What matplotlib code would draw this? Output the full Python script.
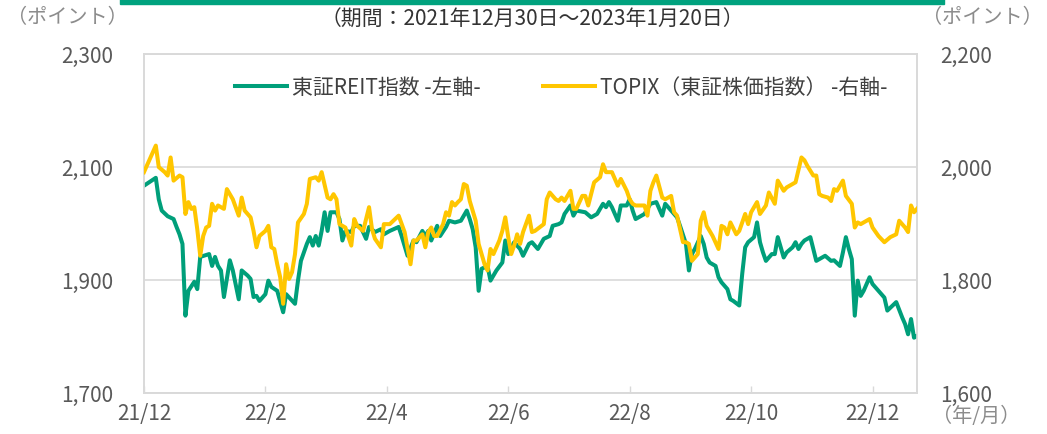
import matplotlib
matplotlib.use("Agg")
import matplotlib.pyplot as plt
from matplotlib.lines import Line2D
from matplotlib.patches import Rectangle

plt.rcParams['font.family'] = ['Noto Sans CJK JP', 'DejaVu Sans']

# ---- data (trading-day index, value) ----
reit_day = [0, 4, 5, 6, 8, 10, 11, 12, 13, 14, 15, 17, 18, 19, 22, 23, 24, 25, 26, 27, 29, 30, 32, 33, 35, 36, 37, 38, 39,
            41, 42, 43, 45, 47, 48, 51, 52, 53, 55, 56, 57, 58, 59, 60, 61, 62, 63, 65, 66, 67, 68, 70, 71, 73, 75, 76, 78,
            80, 81, 83, 86, 87, 89, 91, 92, 94, 95, 96, 97, 99, 100, 102, 103, 105, 107, 109, 110, 111, 112, 113, 114,
            116, 117, 119, 121, 122, 123, 125, 127, 128, 130, 131, 133, 135, 137, 138, 140, 141, 142, 144, 145, 146, 149,
            151, 153, 155, 156, 157, 158, 160, 161, 163, 164, 165, 166, 169, 171, 173, 175, 176, 178, 180, 181, 183, 184,
            185, 186, 188, 189, 190, 191, 193, 194, 195, 197, 198, 199, 201, 202, 203, 204, 206, 207, 208, 209, 210, 212,
            213, 214, 215, 216, 217, 219, 220, 221, 222, 223, 225, 227, 228, 230, 232, 233, 235, 236, 237, 238, 239, 240,
            241, 242, 243, 245, 246, 248, 250, 251, 254, 256, 257, 258, 259, 260, 261]
reit_value = [2066, 2080, 2042, 2022, 2012, 2007, 1993, 1980, 1963, 1836, 1880, 1896, 1883, 1940, 1945, 1924, 1940, 1924,
              1916, 1869, 1934, 1916, 1865, 1916, 1907, 1901, 1869, 1871, 1862,
              1874, 1898, 1887, 1880, 1842, 1874, 1857, 1898, 1933, 1963, 1975, 1960, 1977, 1960, 1986, 2019, 1986, 2019,
              2019, 2007, 1969, 1986, 1984, 1995, 1995, 1972, 1993, 1984,
              1989, 1980, 1986, 1993, 1977, 1942, 1969, 1966, 1986, 1977, 1986, 1969, 1995, 1977, 1993, 2004, 2001, 2004,
              2022, 2007, 1989, 1957, 1880, 1919,
              1924, 1898, 1916, 1930, 1969, 1945, 1966, 1954, 1942, 1963, 1966, 1954, 1972, 1977, 1995, 1998, 2001, 2016,
              2031, 2013, 2022, 2019,
              2010, 2016, 2034, 2028, 2037, 2028, 2004, 2031, 2031, 2042, 2022, 2007, 2016, 2034, 2037, 2013, 2034, 2022,
              2010, 1995, 1963, 1916,
              1945, 1954, 1977, 1963, 1939, 1930, 1924, 1904, 1895, 1883, 1865, 1862, 1854, 1910, 1957, 1966, 1975, 2001,
              1966, 1948, 1933, 1945,
              1945, 1975, 1957, 1939, 1948, 1957, 1966, 1954, 1963, 1969, 1975, 1933, 1936, 1942, 1933, 1934, 1924, 1948,
              1975, 1954, 1936, 1836,
              1898, 1871, 1880, 1904, 1892, 1880, 1868, 1845, 1860, 1833, 1821, 1803, 1830, 1797, 1800]

topix_day = [0, 4, 5, 7, 8, 9, 10, 12, 13, 14, 15, 16, 17, 18, 19, 20, 21, 22, 23, 24, 25, 27, 28, 30, 32, 33, 34, 36, 37,
             38, 39, 41, 42, 43, 44, 45, 46, 47, 48, 49, 50, 51, 52, 54, 55, 56, 58, 59, 60, 62, 63, 64, 65, 66, 68, 70,
             71, 72, 74, 76, 77, 78, 80, 81, 83, 86, 88, 90, 91, 92, 94, 95, 96, 97, 98, 99, 101, 102, 103, 104, 105, 106,
             107, 108, 109, 110, 112, 113, 114, 115, 116, 117, 118, 120, 121, 122, 123, 124, 125, 126, 127, 128, 130, 131,
             132, 135, 136, 137, 139, 140, 141, 142, 144, 145, 146, 148, 149, 150, 152, 154, 155, 156, 158, 160, 161, 163,
             164, 165, 166, 169, 170, 171, 172, 173, 175, 176, 178, 179, 180, 182, 183, 184, 185, 187, 188, 189, 190, 192,
             194, 195, 196, 197, 198, 200, 201, 203, 204, 205, 207, 208, 210, 211, 213, 214, 216, 217, 218, 220, 222, 223,
             224, 226, 227, 228, 229, 231, 232, 233, 234, 236, 237, 239, 240, 241, 242, 243, 245, 246, 248, 250, 252, 254,
             255, 257, 258, 259, 260, 261]
topix_value = [1990, 2037, 1999, 1990, 1984, 2016, 1975, 1984, 1981, 1916, 1937, 1925, 1928, 1889, 1842, 1877, 1892, 1895,
               1934, 1922, 1931, 1925, 1960, 1942, 1913, 1945, 1922, 1910, 1886,
               1857, 1877, 1886, 1895, 1857, 1854, 1827, 1804, 1757, 1827, 1801, 1813, 1845, 1901, 1916, 1934, 1978, 1981,
               1975, 1990, 1945, 1942, 1951, 1942, 1898, 1892, 1860,
               1907, 1895, 1886, 1928, 1889, 1872, 1857, 1898, 1898, 1913, 1884, 1827, 1869, 1869, 1880, 1857, 1884, 1892,
               1877, 1877, 1898, 1919, 1913, 1937, 1931, 1937,
               1942, 1969, 1966, 1939, 1904, 1863, 1845, 1827, 1816, 1854, 1845, 1869, 1886, 1910, 1875, 1845, 1860, 1880,
               1863, 1884, 1913, 1884,
               1886, 1898, 1942, 1954, 1942, 1939, 1945, 1939, 1957, 1925, 1925, 1948, 1948, 1931, 1972, 1981, 2004, 1990,
               1990, 1966, 1978, 1957,
               1942, 1934, 1931, 1931, 1913, 1957, 1972, 1984, 1945, 1942, 1948, 1919, 1913, 1866, 1866, 1863, 1833, 1845,
               1904, 1919, 1895, 1877,
               1854, 1895, 1892, 1880, 1901, 1880, 1886, 1916, 1898, 1919, 1937, 1916, 1931, 1954, 1934, 1975, 1957, 1963,
               1966, 1972, 2016, 2011,
               2001, 1984, 1984, 1951, 1948, 1945, 1939, 1960, 1957, 1975, 1948, 1934, 1892, 1901, 1898, 1901, 1907, 1892,
               1877, 1866, 1875, 1880,
               1904, 1892, 1884, 1931, 1919, 1925]

tick_days = [0, 41, 82, 123, 164, 205, 246]
tick_labels = ['21/12', '22/2', '22/4', '22/6', '22/8', '22/10', '22/12']
left_ticks = [1700, 1900, 2100, 2300]
right_ticks = [1600, 1800, 2000, 2200]

GREEN = '#009F7A'
YELLOW = '#FFC600'
TXT = '#595959'
GRID = '#D9D9D9'
FS = 15

fig = plt.figure(figsize=(10.47, 4.35), dpi=100)
ax = fig.add_axes([0.1375, 0.0954, 0.7383, 0.7793])
ax2 = ax.twinx()

ax.plot(reit_day, reit_value, color=GREEN, lw=2.9, solid_joinstyle='round', zorder=3)
ax2.plot(topix_day, topix_value, color=YELLOW, lw=2.9, solid_joinstyle='round', zorder=3)

ax.set_xlim(0, 261)
ax.set_ylim(1700, 2300)
ax2.set_ylim(1600, 2200)

ax.set_yticks(left_ticks)
ax.set_yticklabels([f'{v:,}' for v in left_ticks])
ax2.set_yticks(right_ticks)
ax2.set_yticklabels([f'{v:,}' for v in right_ticks])
ax.set_xticks(tick_days)
ax.set_xticklabels(tick_labels)

ax.grid(axis='y', color=GRID, lw=1.2)
ax.set_axisbelow(True)

for a in (ax, ax2):
    for s in a.spines.values():
        s.set_color(GRID)
        s.set_linewidth(1.2)
ax.tick_params(axis='x', direction='in', length=5, color=GRID, width=1, labelsize=FS, labelcolor=TXT, pad=7)
ax.tick_params(axis='y', length=0, labelsize=FS, labelcolor=TXT, pad=22)
ax2.tick_params(axis='y', length=0, labelsize=FS, labelcolor=TXT, pad=16.5)
ax2.tick_params(axis='x', length=0)
# right-axis bottom label sits slightly above the axis line, as in the reference
for lbl in ax2.get_yticklabels():
    lbl.set_verticalalignment('center_baseline')

# legend
handles = [Line2D([], [], color=GREEN, lw=2.9), Line2D([], [], color=YELLOW, lw=2.9)]
labels = ['東証REIT指数 -左軸-', 'TOPIX（東証株価指数） -右軸-']
fig.legend(handles, labels, loc='center', bbox_to_anchor=(0.536, 0.797), ncol=2, frameon=False,
           fontsize=FS, handlelength=2.5, handletextpad=0.25, columnspacing=3.0, labelcolor='#404040')

# top bar and texts
fig.patches.append(Rectangle((120 / 1047, 1 - 5 / 435), (944 - 120) / 1047, 5 / 435,
                             transform=fig.transFigure, color='#00A27E', zorder=5))
fig.text(532 / 1047, 1 - 20 / 435, '（期間：2021年12月30日～2023年1月20日）', ha='center', va='center',
         fontsize=FS, color='#333333')
fig.text(67 / 1047, 1 - 18 / 435, '（ポイント）', ha='center', va='center', fontsize=14.5, color='#8C8C8C')
fig.text(982 / 1047, 1 - 18 / 435, '（ポイント）', ha='center', va='center', fontsize=14.5, color='#8C8C8C')
fig.text(976 / 1047, 1 - 417 / 435, '（年/月）', ha='center', va='center', fontsize=14.5, color='#8C8C8C')

fig.savefig('out.png', dpi=100)
